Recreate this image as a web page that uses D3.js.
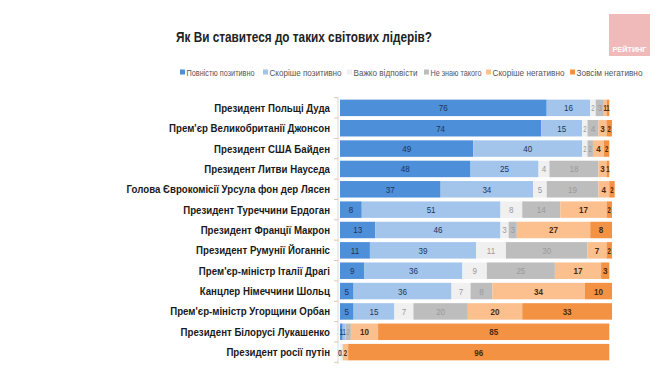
<!DOCTYPE html>
<html lang="uk">
<head>
<meta charset="UTF-8" />
<title>Світові лідери</title>
<script src="https://d3js.org/d3.v7.min.js"></script>
<style>
    body { margin: 0; background: #fff; }
    svg text { font-family: "Liberation Sans", Arial, sans-serif; }
</style>
</head>
<body>
<script>
    var leaders = [
        "Президент Польщі Дуда",
        "Прем'єр Великобританії Джонсон",
        "Президент США Байден",
        "Президент Литви Науседа",
        "Голова Єврокомісії Урсула фон дер Лясен",
        "Президент Туреччини Ердоган",
        "Президент Франції Макрон",
        "Президент Румунії Йоганніс",
        "Прем'єр-міністр Італії Драгі",
        "Канцлер Німеччини Шольц",
        "Прем'єр-міністр Угорщини Орбан",
        "Президент Білорусі Лукашенко",
        "Президент росії путін"
    ];
    var answers = ["Повністю позитивно", "Скоріше позитивно", "Важко відповісти",
                   "Не знаю такого", "Скоріше негативно", "Зовсім негативно"];

    // one array per answer, in the order of leaders
    var fullyPositive  = [76, 74, 49, 48, 37,  8, 13, 11,  9,  5,  5,  1,  0];
    var ratherPositive = [16, 15, 40, 25, 34, 51, 46, 39, 36, 36, 15,  1,  0];
    var hardToSay      = [ 2,  2,  2,  4,  5,  8,  3, 11,  9,  7,  7,  0,  1];
    var dontKnow       = [ 3,  4,  2, 18, 19, 14,  3, 30, 25,  8, 20,  2,  0];
    var ratherNegative = [ 1,  3,  4,  3,  4, 17, 27,  7, 17, 34, 20, 10,  2];
    var fullyNegative  = [ 1,  2,  2,  1,  2,  2,  8,  2,  3, 10, 33, 85, 96];

    var colors = ["#4d8fd8", "#a3c5ec", "#f0f0f0", "#bdbdbd", "#fbc08e", "#f49244"];
    var labelColors = ["#1d3556", "#1d3556", "#9a9a9a", "#9a9a9a", "#4a2a10", "#4a2a10"];

    var series = [fullyPositive, ratherPositive, hardToSay, dontKnow, ratherNegative, fullyNegative];
    var table = leaders.map(function(name, i) {
        var row = {name: name};
        answers.forEach(function(a, j) { row[a] = series[j][i]; });
        return row;
    });

    var w = 662, h = 377;
    var svg = d3.select("body").append("svg").attr("width", w).attr("height", h);

    var xScale = d3.scaleLinear().domain([0, 100]).range([340, 612]);
    var yScale = d3.scaleBand().domain(leaders).range([98, 362]).paddingInner(0.19).paddingOuter(0.08);

    var stack = d3.stack().keys(answers)(table);

    // title
    svg.append("text")
        .attr("x", 176).attr("y", 42)
        .attr("font-size", 14).attr("font-weight", "bold").attr("fill", "#222")
        .attr("textLength", 256).attr("lengthAdjust", "spacingAndGlyphs")
        .text("Як Ви ставитеся до таких світових лідерів?");

    // logo
    svg.append("rect").attr("x", 609).attr("y", 14).attr("width", 41).attr("height", 42).attr("fill", "#f1baba");
    svg.append("text").attr("x", 629.5).attr("y", 52).attr("text-anchor", "middle")
        .attr("font-size", 7).attr("font-weight", "bold").attr("fill", "#fff")
        .attr("textLength", 34).attr("lengthAdjust", "spacingAndGlyphs").text("РЕЙТИНГ");

    // legend
    var legendX = [180, 263, 347, 424, 486, 570];
    var legendW = [68, 72, 64, 51, 72, 66];
    var legend = svg.append("g").selectAll("g").data(answers).enter().append("g")
        .attr("transform", function(d, i) { return "translate(" + legendX[i] + ",73)"; });
    legend.append("rect").attr("x", 0).attr("y", -3.5).attr("width", 5).attr("height", 5)
        .attr("fill", function(d, i) { return colors[i]; });
    legend.append("text").attr("x", 6.5).attr("y", 2.8)
        .attr("font-size", 8.5).attr("fill", "#555")
        .attr("textLength", function(d, i) { return legendW[i]; })
        .attr("lengthAdjust", "spacingAndGlyphs")
        .text(function(d) { return d; });

    // category axis
    var axis = svg.append("g").attr("transform", "translate(338,0)");
    axis.append("line").attr("y1", 97).attr("y2", 364).attr("stroke", "#d9d9d9");
    var step = yScale.step();
    var tickY = function(i) { return 98 + yScale.paddingOuter() * step - yScale.paddingInner() * step / 2 + i * step; };
    axis.selectAll(".tick").data(d3.range(leaders.length + 1)).enter().append("line")
        .attr("x1", -4).attr("x2", 0)
        .attr("y1", tickY).attr("y2", tickY)
        .attr("stroke", "#e2c7a8");

    svg.append("g").attr("transform", "translate(330,0) scale(0.88,1)")
        .selectAll("text").data(leaders).enter().append("text")
        .attr("x", 0).attr("y", function(d) { return yScale(d) + yScale.bandwidth() / 2 + 4; })
        .attr("text-anchor", "end").attr("font-size", 11).attr("font-weight", "bold").attr("fill", "#1a1a1a")
        .text(function(d) { return d; });

    // bars
    var layers = svg.append("g").selectAll("g").data(stack).enter().append("g")
        .attr("fill", function(d, i) { return colors[i]; });
    layers.selectAll("rect").data(function(d) { return d; }).enter().append("rect")
        .attr("x", function(d) { return xScale(d[0]); })
        .attr("y", function(d) { return yScale(d.data.name); })
        .attr("width", function(d) { return xScale(d[1]) - xScale(d[0]); })
        .attr("height", yScale.bandwidth());

    // value labels (narrow segments get a smaller, tighter label)
    var labels = svg.append("g").selectAll("g").data(stack).enter().append("g")
        .attr("fill", function(d, i) { return labelColors[i]; })
        .attr("font-weight", function(d, i) { return i >= 4 ? "bold" : "normal"; });
    labels.selectAll("text").data(function(d) {
            return d.filter(function(p) { return p[1] - p[0] > 0 || d.index < 2; });
        }).enter().append("text")
        .attr("x", function(d) { return xScale((d[0] + d[1]) / 2); })
        .attr("y", function(d) { return yScale(d.data.name) + yScale.bandwidth() / 2 + 3.5; })
        .attr("text-anchor", "middle")
        .attr("font-size", function(d) { return d[1] - d[0] <= 2 ? 8.5 : 9.5; })
        .attr("transform", function(d) {
            var cx = xScale((d[0] + d[1]) / 2);
            var sx = d[1] - d[0] <= 2 ? 0.7 : 0.85;
            return "translate(" + cx + ",0) scale(" + sx + ",1) translate(" + (-cx) + ",0)";
        })
        .text(function(d) { return d[1] - d[0]; });
</script>
</body>
</html>
